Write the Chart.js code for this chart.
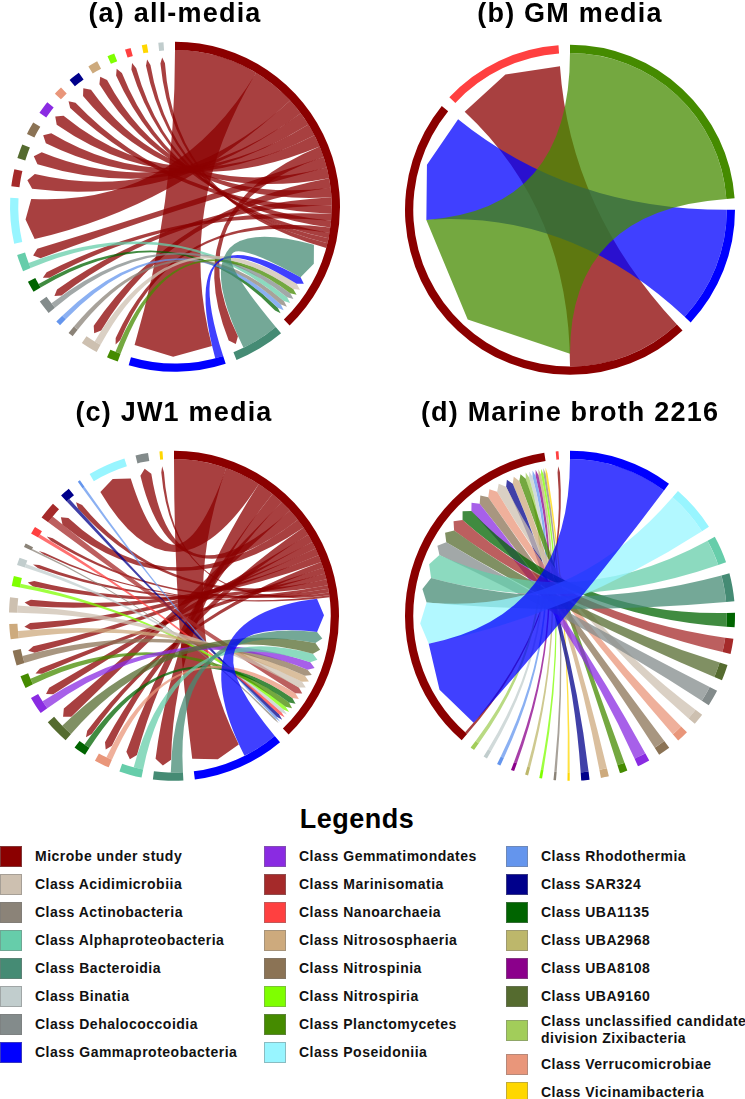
<!DOCTYPE html>
<html>
<head>
<meta charset="utf-8">
<script src="https://cdn.jsdelivr.net/npm/chart.js@4.4.1/dist/chart.umd.min.js"></script>
<style>
  html, body { margin: 0; padding: 0; background: #fff; }
  body { width: 745px; height: 1099px; position: relative; overflow: hidden; font-family: "Liberation Sans", Arial, sans-serif; }
  canvas { position: absolute; }
  #legendTitle { position: absolute; left: 0; width: 714px; top: 806px; text-align: center; font-size: 27px; line-height: 27px; font-weight: bold; letter-spacing: 0.5px; color: #000; }
  .item { position: absolute; display: flex; align-items: center; white-space: pre; }
  .swatch { width: 20px; height: 19px; border: 1px solid rgba(120,120,120,0.45); flex: none; }
  .label { margin-left: 13px; font-size: 14px; line-height: 17px; font-weight: bold; letter-spacing: 0.5px; color: #111; }
</style>
</head>
<body>
<canvas id="chartA" width="350" height="376" style="left:0;top:0"></canvas>
<canvas id="chartB" width="350" height="382" style="left:395px;top:0"></canvas>
<canvas id="chartC" width="348" height="415" style="left:0;top:380px"></canvas>
<canvas id="chartD" width="350" height="415" style="left:395px;top:380px"></canvas>
<div id="legendTitle">Legends</div>
<div id="legend"></div>
<script>
// sectors (class keys) and their colours
const sectorKeys = ["Microbe", "Acidimicrobiia", "Actinobacteria", "Alphaproteobacteria", "Bacteroidia", "Binatia",
  "Dehalococcoidia", "Gammaproteobacteria", "Gemmatimondates", "Marinisomatia", "Nanoarchaeia", "Nitrososphaeria",
  "Nitrospinia", "Nitrospiria", "Planctomycetes", "Poseidoniia", "Rhodothermia", "SAR324", "UBA1135", "UBA2968",
  "UBA8108", "UBA9160", "Zixibacteria", "Verrucomicrobiae", "Vicinamibacteria"];
const sectorColors = ["#8B0000", "#CDC0B0", "#8B8378", "#66CDAA", "#458B74", "#C1CDCD",
  "#838B8B", "#0000FF", "#8A2BE2", "#A52A2A", "#FF4040", "#CDAA7D",
  "#8B7355", "#7FFF00", "#458B00", "#98F5FF", "#6495ED", "#00008B", "#006400", "#BDB76B",
  "#8B008B", "#556B2F", "#A2CD5A", "#E9967A", "#FFD700"];
const legendLabels = ["Microbe under study", "Class Acidimicrobiia", "Class Actinobacteria", "Class Alphaproteobacteria",
  "Class Bacteroidia", "Class Binatia", "Class Dehalococcoidia", "Class Gammaproteobacteria", "Class Gemmatimondates",
  "Class Marinisomatia", "Class Nanoarchaeia", "Class Nitrososphaeria", "Class Nitrospinia", "Class Nitrospiria",
  "Class Planctomycetes", "Class Poseidoniia", "Class Rhodothermia", "Class SAR324", "Class UBA1135", "Class UBA2968",
  "Class UBA8108", "Class UBA9160", "Class unclassified candidate\ndivision Zixibacteria", "Class Verrucomicrobiae",
  "Class Vicinamibacteria"];

// (a) all-media: sector order clockwise from 12 o'clock, class->microbe and microbe->class link values
const allSectors = ["Microbe", "Bacteroidia", "Gammaproteobacteria", "Planctomycetes", "Acidimicrobiia", "Actinobacteria",
  "Rhodothermia", "Dehalococcoidia", "UBA1135", "Alphaproteobacteria", "Poseidoniia", "Marinisomatia", "UBA9160",
  "Nitrospinia", "Gemmatimondates", "Verrucomicrobiae", "SAR324", "Nitrososphaeria", "Nitrospiria", "Nanoarchaeia",
  "Vicinamibacteria", "Binatia"];
const allToMicrobe = [0, 14, 3, 2, 2.5, 1.8, 1.8, 2, 1.5, 2, 0, 0, 0, 0, 0, 0, 0, 0, 0, 0, 0, 0];
const allFromMicrobe = [0, 4, 31, 2, 3.5, 0, 0, 3, 2.5, 4, 16, 6, 5, 4.5, 4.5, 3, 4, 3.5, 2.5, 2, 1.8, 1.8];

// (b) GM media
const gmSectors = ["Planctomycetes", "Gammaproteobacteria", "Microbe", "Nanoarchaeia"];
const gmToMicrobe = [2, 1, 0, 0];
const gmFromMicrobe = [0, 0, 0, 1];

// (c) JW1 media
const jwSectors = ["Microbe", "Gammaproteobacteria", "Bacteroidia", "Alphaproteobacteria", "Verrucomicrobiae", "UBA1135",
  "UBA9160", "Gemmatimondates", "Planctomycetes", "Nitrospinia", "Nitrososphaeria", "Acidimicrobiia", "Nitrospiria",
  "Binatia", "Actinobacteria", "Nanoarchaeia", "Marinisomatia", "SAR324", "Rhodothermia", "Poseidoniia",
  "Dehalococcoidia", "Vicinamibacteria"];
const jwToMicrobe = [0, 15, 5, 4, 2.5, 2.5, 5, 3.5, 2.5, 3, 3, 3, 1.5, 1.5, 0.7, 1.5, 3, 1.5, 1, 0, 0, 0];
const jwFromMicrobe = [0, 22, 7, 5, 3.5, 2.5, 5, 3.5, 2.5, 3, 3, 3, 2.5, 1.5, 0.8, 1.5, 4, 2.5, 0, 15, 5, 1.2];

// (d) Marine broth 2216
const mbSectors = ["Gammaproteobacteria", "Poseidoniia", "Alphaproteobacteria", "Bacteroidia", "UBA1135", "Marinisomatia",
  "UBA9160", "Dehalococcoidia", "Acidimicrobiia", "Verrucomicrobiae", "Nitrospinia", "Gemmatimondates", "Planctomycetes",
  "Nitrososphaeria", "SAR324", "Vicinamibacteria", "Actinobacteria", "Nitrospiria", "UBA2968", "UBA8108", "Rhodothermia",
  "Binatia", "Zixibacteria", "Microbe", "Nanoarchaeia"];
const mbToMicrobe = [38, 17, 10, 10.2, 5.2, 5.5, 5.8, 6, 4.2, 4.3, 4.4, 4.5, 2.8, 2.9, 3, 0.8, 0.9, 1, 1.1, 1.2, 1.3, 1.4, 1.5, 0, 0];
const mbFromMicrobe = [0, 0, 0, 0, 0, 0, 0, 0, 0, 0, 0, 0, 0, 0, 0, 0, 0, 0, 0, 0, 0, 0, 0, 0, 1];

const GAP_DEG = 4;
const RIBBON_ALPHA = 0.75;

const sum = arr => arr.reduce((s, v) => s + v, 0);
const colorOf = key => sectorColors[sectorKeys.indexOf(key)];
function hexToRgba(hex, a) {
  const n = parseInt(hex.slice(1), 16);
  return `rgba(${(n >> 16) & 255},${(n >> 8) & 255},${n & 255},${a})`;
}

// draws the links between the doughnut arcs
const chordPlugin = {
  id: 'chords',
  afterDatasetsDraw(chart, args, opts) {
    const { sectors, toMicrobe, fromMicrobe } = opts;
    const arcs = chart.getDatasetMeta(0).data;
    const values = chart.data.datasets[0].data;
    const ctx = chart.ctx;
    const { x: cx, y: cy, innerRadius, outerRadius } = arcs[0];
    const rSrc = innerRadius;
    const rEnd = outerRadius - 21;
    const rTip = outerRadius - 15;
    const m = sectors.indexOf('Microbe');

    const cursor = sectors.map((_, i) => arcs[2 * i].startAngle);
    const unit = sectors.map((_, i) => (arcs[2 * i].endAngle - arcs[2 * i].startAngle) / values[2 * i]);
    const take = (i, v) => { const a = cursor[i]; cursor[i] += v * unit[i]; return [a, cursor[i]]; };

    const others = sectors.map((_, i) => i).filter(i => i !== m);
    const byDesc = vals => others.filter(i => vals[i] > 0).sort((p, q) => vals[q] - vals[p]);

    // outgoing links first, then incoming ones, in every sector
    const microbeOut = {}, microbeIn = {}, classOut = {}, classIn = {};
    byDesc(fromMicrobe).forEach(i => { microbeOut[i] = take(m, fromMicrobe[i]); });
    byDesc(toMicrobe).forEach(i => { microbeIn[i] = take(m, toMicrobe[i]); });
    others.forEach(i => {
      if (toMicrobe[i] > 0) classOut[i] = take(i, toMicrobe[i]);
      if (fromMicrobe[i] > 0) classIn[i] = take(i, fromMicrobe[i]);
    });

    const pt = (a, r) => [cx + r * Math.cos(a), cy + r * Math.sin(a)];
    const ribbon = (src, tgt, color) => {
      const [a1, a2] = src, [b1, b2] = tgt;
      ctx.beginPath();
      ctx.arc(cx, cy, rSrc, a1, a2);
      ctx.quadraticCurveTo(cx, cy, ...pt(b1, rEnd));
      ctx.lineTo(...pt((b1 + b2) / 2, rTip));
      ctx.lineTo(...pt(b2, rEnd));
      ctx.quadraticCurveTo(cx, cy, ...pt(a1, rSrc));
      ctx.closePath();
      ctx.fillStyle = hexToRgba(color, RIBBON_ALPHA);
      ctx.fill();
    };

    ctx.save();
    byDesc(fromMicrobe).forEach(i => ribbon(microbeOut[i], classIn[i], colorOf('Microbe')));
    byDesc(toMicrobe).reverse().forEach(i => ribbon(classOut[i], microbeIn[i], colorOf(sectors[i])));
    ctx.restore();
  }
};

// a little tracking on the panel titles
const titleSpacing = {
  id: 'titleSpacing',
  beforeDraw(chart) { chart.ctx.letterSpacing = '1.2px'; },
  afterDraw(chart) { chart.ctx.letterSpacing = '0px'; }
};

function makeChord(id, title, sectors, toMicrobe, fromMicrobe, padTop) {
  const totals = sectors.map((k, i) => k === 'Microbe' ? sum(toMicrobe) + sum(fromMicrobe) : toMicrobe[i] + fromMicrobe[i]);
  const gap = sum(totals) * GAP_DEG / (360 - GAP_DEG * sectors.length);
  const data = [], colors = [], labels = [];
  totals.forEach((v, i) => {
    data.push(v, gap);
    colors.push(colorOf(sectors[i]), 'rgba(0,0,0,0)');
    labels.push(sectors[i], '');
  });

  return new Chart(document.getElementById(id), {
    type: 'doughnut',
    data: {
      labels: labels,
      datasets: [{
        data: data,
        backgroundColor: colors,
        borderWidth: 0,
        hoverOffset: 0,
        radius: 165,
        cutout: '95%'
      }]
    },
    options: {
      responsive: false,
      animation: false,
      events: [],
      rotation: 0,
      circumference: 360,
      plugins: {
        legend: { display: false },
        tooltip: { enabled: false },
        title: {
          display: true,
          text: title,
          color: '#000',
          font: { family: 'Liberation Sans', weight: 'bold', size: 27, lineHeight: 1.1 },
          padding: { top: padTop, bottom: 8 }
        },
        chords: { sectors, toMicrobe, fromMicrobe }
      }
    },
    plugins: [chordPlugin, titleSpacing]
  });
}

makeChord('chartA', '(a) all-media', allSectors, allToMicrobe, allFromMicrobe, 0);
makeChord('chartB', '(b) GM media', gmSectors, gmToMicrobe, gmFromMicrobe, 0);
makeChord('chartC', '(c) JW1 media', jwSectors, jwToMicrobe, jwFromMicrobe, 19);
makeChord('chartD', '(d) Marine broth 2216', mbSectors, mbToMicrobe, mbFromMicrobe, 19);

// shared legend, three columns
const legendEl = document.getElementById('legend');
const colX = [0, 264, 506];
const colSizes = [8, 8, 9];
let k = 0;
colSizes.forEach((n, c) => {
  let top = 843;
  for (let r = 0; r < n; r++, k++) {
    const twoLines = legendLabels[k].includes('\n');
    const h = twoLines ? 40 : 27.9;
    const item = document.createElement('div');
    item.className = 'item';
    item.style.left = colX[c] + 'px';
    item.style.top = top + 'px';
    item.style.height = h + 'px';
    item.innerHTML = `<div class="swatch" style="background:${sectorColors[k]}"></div><div class="label"></div>`;
    item.lastChild.textContent = legendLabels[k];
    legendEl.appendChild(item);
    top += h;
  }
});
</script>
</body>
</html>
